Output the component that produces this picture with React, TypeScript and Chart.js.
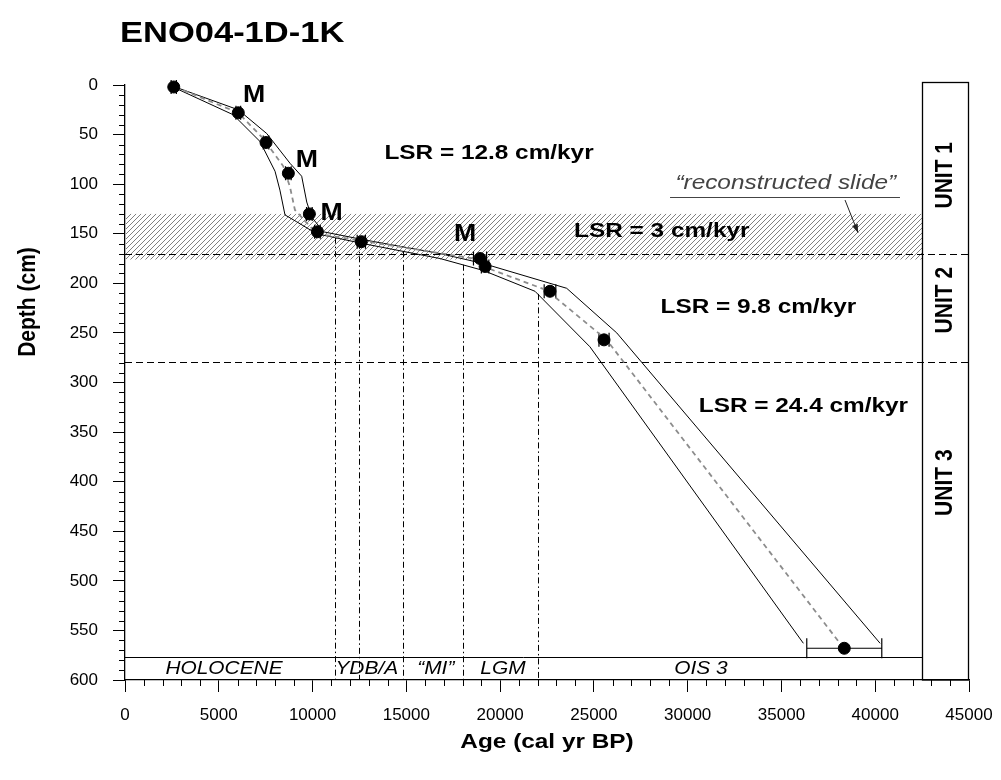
import React, { useEffect, useRef } from 'react';
import { Chart, registerables } from 'chart.js';

Chart.register(...registerables);

const FONT = '"Liberation Sans", Arial, Helvetica, sans-serif';
const K = 1.16; // horizontal stretch of the reference lettering

// ---- data ----
const sampleAge = [2600, 6040, 7520, 8710, 9830, 10260, 12600, 18930, 19200, 22660, 25540, 38350];
const sampleDepth = [2, 28, 58, 89, 130, 148, 158, 175, 183, 208, 257, 568];
const sampleAgeErr = [140, 125, 150, 150, 150, 150, 220, 350, 200, 310, 270, 2000];

const oldBoundAge = [2670, 6040, 7560, 8800, 9420, 9690, 9950, 10570, 12710, 16800, 19100, 23550, 26220, 40260];
const oldBoundDepth = [2, 25, 49, 79, 92, 118, 133, 148, 156, 170, 180, 205, 250, 563];
const youngBoundAge = [2670, 5770, 7200, 8000, 8260, 8530, 9160, 10220, 12710, 16800, 19100, 21860, 24790, 36170];
const youngBoundDepth = [3, 30, 57, 87, 106, 131, 138, 150, 160, 175, 187, 208, 264, 563];
const meanAge = [2670, 6040, 7370, 8440, 8800, 9060, 9690, 10220, 12580, 18930, 19100, 22490, 25680, 38120];
const meanDepth = [2, 28, 54, 82, 103, 126, 139, 150, 157, 176, 183, 207, 257, 563];

const periodBoundaries = [11200, 12500, 14800, 18000, 22000];
const periodLabels = ['HOLOCENE', 'YDB/A', '\u201CMI\u201D', 'LGM', 'OIS 3'];
const periodLabelAge = [5280, 12890, 16570, 20150, 30710];
const periodRowTop = 577;

const slideTop = 130;
const slideBottom = 176;
const unitBoundaries = [170, 279];
const unitLabels = ['UNIT 1', 'UNIT 2', 'UNIT 3'];
const unitLabelDepth = [91, 217, 401];
const unitColumnAge = 42500;
const unitLabelAge = 43720;

const lsrLabels = ['LSR = 12.8 cm/kyr', 'LSR = 3 cm/kyr', 'LSR = 9.8 cm/kyr', 'LSR = 24.4 cm/kyr'];
const lsrAge = [19410, 28620, 33770, 36170];
const lsrDepth = [69, 147, 224, 324];

const mAge = [6880, 9690, 11020, 18130];
const mDepth = [11, 76, 130, 151];

const xTicks = [0, 5000, 10000, 15000, 20000, 25000, 30000, 35000, 40000, 45000];
const yTicks = [0, 50, 100, 150, 200, 250, 300, 350, 400, 450, 500, 550, 600];

function pts(xs: number[], ys: number[]) {
  return xs.map((v, i) => ({ x: v, y: ys[i] }));
}

function interp(xs: number[], ys: number[], v: number) {
  for (let i = 0; i < xs.length - 1; i++) {
    if (v >= xs[i] && v <= xs[i + 1]) {
      const t = (v - xs[i]) / (xs[i + 1] - xs[i]);
      return ys[i] + t * (ys[i + 1] - ys[i]);
    }
  }
  return ys[ys.length - 1];
}

function txt(ctx: CanvasRenderingContext2D, s: string, x: number, y: number, font: string,
  align: CanvasTextAlign = 'center', color = '#000', rot = 0) {
  ctx.save();
  ctx.font = font;
  ctx.fillStyle = color;
  ctx.textAlign = align;
  ctx.textBaseline = 'middle';
  ctx.translate(x, y);
  if (rot) {
    ctx.rotate(rot);
    ctx.scale(1, K);
  } else {
    ctx.scale(K, 1);
  }
  ctx.fillText(s, 0, 0);
  ctx.restore();
}

function makeHatch(ctx: CanvasRenderingContext2D) {
  const c = document.createElement('canvas');
  c.width = 5;
  c.height = 5;
  const g = c.getContext('2d')!;
  g.strokeStyle = '#808080';
  g.lineWidth = 1;
  g.beginPath();
  g.moveTo(0, 5); g.lineTo(5, 0);
  g.moveTo(-1, 1); g.lineTo(1, -1);
  g.moveTo(4, 6); g.lineTo(6, 4);
  g.stroke();
  return ctx.createPattern(c, 'repeat');
}

export default function App() {
  const ref = useRef<HTMLCanvasElement>(null);

  useEffect(() => {
    document.body.style.margin = '0';
    const canvas = ref.current!;
    const ctx0 = canvas.getContext('2d')!;
    const hatch = makeHatch(ctx0);

    const annot = {
      id: 'annot',
      beforeDatasetsDraw(chart: any) {
        const { ctx, chartArea, scales } = chart;
        const x = scales.x, y = scales.y;
        const colRight = x.getPixelForValue(unitColumnAge);
        ctx.save();
        // hatched "reconstructed slide"
        ctx.fillStyle = hatch as any;
        const ht = y.getPixelForValue(slideTop), hb = y.getPixelForValue(slideBottom);
        ctx.fillRect(chartArea.left + 1, ht, colRight - chartArea.left - 1, hb - ht);

        // period boundaries (dash-dot)
        ctx.strokeStyle = '#000';
        ctx.lineWidth = 1;
        ctx.setLineDash([6, 3, 1.5, 3]);
        periodBoundaries.forEach((a) => {
          const d = interp(youngBoundAge, youngBoundDepth, a);
          const px = Math.round(x.getPixelForValue(a)) + 0.5;
          ctx.beginPath();
          ctx.moveTo(px, y.getPixelForValue(d));
          ctx.lineTo(px, y.getPixelForValue(600));
          ctx.stroke();
        });

        // unit boundaries (dashed)
        ctx.setLineDash([7, 4]);
        unitBoundaries.forEach((d) => {
          const py = Math.round(y.getPixelForValue(d)) + 0.5;
          ctx.beginPath();
          ctx.moveTo(chartArea.left, py);
          ctx.lineTo(x.getPixelForValue(45000), py);
          ctx.stroke();
        });
        ctx.setLineDash([]);

        // period row top line
        const pr = Math.round(y.getPixelForValue(periodRowTop)) + 0.5;
        ctx.beginPath();
        ctx.moveTo(chartArea.left, pr);
        ctx.lineTo(colRight, pr);
        ctx.stroke();

        // unit column box
        const bx = Math.round(colRight) + 0.5;
        const bxr = Math.round(x.getPixelForValue(45000)) - 0.5;
        const bt = Math.round(y.getPixelForValue(-3)) + 0.5;
        const bb = y.getPixelForValue(600);
        ctx.lineWidth = 1.3;
        ctx.strokeRect(bx, bt, bxr - bx, bb - bt);

        // error bars
        ctx.lineWidth = 1.2;
        sampleAge.forEach((a, i) => {
          const e = sampleAgeErr[i];
          const cap = e >= 1000 ? 10 : 7;
          const py = y.getPixelForValue(sampleDepth[i]);
          const x1 = x.getPixelForValue(a - e), x2 = x.getPixelForValue(a + e);
          ctx.beginPath();
          ctx.moveTo(x1, py); ctx.lineTo(x2, py);
          ctx.moveTo(x1, py - cap); ctx.lineTo(x1, py + cap);
          ctx.moveTo(x2, py - cap); ctx.lineTo(x2, py + cap);
          ctx.stroke();
        });
        ctx.restore();
      },
      afterDraw(chart: any) {
        const { ctx, chartArea, scales } = chart;
        const x = scales.x, y = scales.y;
        ctx.save();
        // minor ticks
        ctx.strokeStyle = '#000';
        ctx.lineWidth = 1;
        ctx.beginPath();
        for (let v = 1000; v < 45000; v += 1000) {
          if (v % 5000 === 0) continue;
          const px = Math.round(x.getPixelForValue(v)) + 0.5;
          ctx.moveTo(px, chartArea.bottom);
          ctx.lineTo(px, chartArea.bottom + 6);
        }
        for (let v = 10; v < 600; v += 10) {
          if (v % 50 === 0) continue;
          const py = Math.round(y.getPixelForValue(v)) + 0.5;
          ctx.moveTo(chartArea.left - 6, py);
          ctx.lineTo(chartArea.left, py);
        }
        ctx.stroke();

        // titles
        ctx.save();
        ctx.font = `bold 30px ${FONT}`;
        ctx.textAlign = 'left';
        ctx.textBaseline = 'alphabetic';
        ctx.translate(120, 42);
        ctx.scale(K - 0.01, 1);
        ctx.fillStyle = '#000';
        ctx.fillText('ENO04-1D-1K', 0, 0);
        ctx.restore();
        txt(ctx, 'Age (cal yr BP)', (chartArea.left + chartArea.right) / 2, 742, `bold 21px ${FONT}`);
        txt(ctx, 'Depth (cm)', 28, 302, `bold 21px ${FONT}`, 'center', '#000', -Math.PI / 2);

        // LSR labels
        lsrLabels.forEach((s, i) => {
          txt(ctx, s, x.getPixelForValue(lsrAge[i]), y.getPixelForValue(lsrDepth[i]), `bold 21px ${FONT}`);
        });
        // M labels
        mAge.forEach((a, i) => {
          txt(ctx, 'M', x.getPixelForValue(a), y.getPixelForValue(mDepth[i]), `bold 23px ${FONT}`);
        });
        // period labels
        periodLabels.forEach((s, i) => {
          txt(ctx, s, x.getPixelForValue(periodLabelAge[i]), y.getPixelForValue(588.5), `italic 18px ${FONT}`);
        });
        // unit labels
        unitLabels.forEach((s, i) => {
          txt(ctx, s, x.getPixelForValue(unitLabelAge), y.getPixelForValue(unitLabelDepth[i]), `bold 21px ${FONT}`, 'center', '#000', -Math.PI / 2);
        });

        // reconstructed slide note
        txt(ctx, '\u201Creconstructed slide\u201D', x.getPixelForValue(35230), y.getPixelForValue(99), `italic 21px ${FONT}`, 'center', '#444');
        ctx.strokeStyle = '#444';
        ctx.lineWidth = 1;
        const uy = Math.round(y.getPixelForValue(112.6)) + 0.5;
        ctx.beginPath();
        ctx.moveTo(x.getPixelForValue(29060), uy);
        ctx.lineTo(x.getPixelForValue(41320), uy);
        ctx.stroke();
        const ax1 = x.getPixelForValue(38390), ay1 = y.getPixelForValue(116);
        const ax2 = x.getPixelForValue(39084), ay2 = y.getPixelForValue(149);
        ctx.strokeStyle = '#222';
        ctx.beginPath();
        ctx.moveTo(ax1, ay1);
        ctx.lineTo(ax2, ay2);
        ctx.stroke();
        const ang = Math.atan2(ay2 - ay1, ax2 - ax1);
        ctx.fillStyle = '#222';
        ctx.beginPath();
        ctx.moveTo(ax2, ay2);
        ctx.lineTo(ax2 - 9 * Math.cos(ang - 0.35), ay2 - 9 * Math.sin(ang - 0.35));
        ctx.lineTo(ax2 - 9 * Math.cos(ang + 0.35), ay2 - 9 * Math.sin(ang + 0.35));
        ctx.closePath();
        ctx.fill();
        ctx.restore();
      },
    };

    const chart = new Chart(canvas, {
      type: 'scatter',
      data: {
        datasets: [
          {
            label: 'Dated samples',
            data: pts(sampleAge, sampleDepth),
            backgroundColor: '#000',
            borderColor: '#000',
            pointRadius: 6,
            pointStyle: 'circle',
            showLine: false,
            clip: false,
            order: 0,
          },
          {
            label: 'Mean',
            data: pts(meanAge, meanDepth),
            showLine: true,
            borderColor: '#8c8c8c',
            borderWidth: 1.8,
            borderDash: [5, 4],
            pointRadius: 0,
            clip: false,
            order: 1,
          },
          {
            label: 'Older bound',
            data: pts(oldBoundAge, oldBoundDepth),
            showLine: true,
            borderColor: '#000',
            borderWidth: 1,
            pointRadius: 0,
            clip: false,
            order: 2,
          },
          {
            label: 'Younger bound',
            data: pts(youngBoundAge, youngBoundDepth),
            showLine: true,
            borderColor: '#000',
            borderWidth: 1,
            pointRadius: 0,
            clip: false,
            order: 3,
          },
        ],
      },
      options: {
        responsive: false,
        animation: false,
        devicePixelRatio: 1,
        layout: { padding: { top: 85, right: 32, bottom: 0, left: 0 } },
        plugins: { legend: { display: false }, tooltip: { enabled: false }, title: { display: false } },
        scales: {
          x: {
            type: 'linear',
            min: 0,
            max: 45000,
            afterFit: (s: any) => { s.height = 100; s.paddingLeft = 0; s.paddingRight = 0; },
            afterBuildTicks: (s: any) => { s.ticks = xTicks.map((v) => ({ value: v })); },
            grid: { drawOnChartArea: false, drawTicks: true, tickLength: 12, color: '#000', tickWidth: 1 },
            border: { display: true, color: '#000', width: 1.3 },
            ticks: {
              autoSkip: false,
              maxRotation: 0,
              padding: 13,
              color: '#000',
              font: { family: FONT, size: 17 },
              callback: (v: any) => String(v),
            },
            title: { display: false },
          },
          y: {
            type: 'linear',
            reverse: true,
            min: 0,
            max: 600,
            afterFit: (s: any) => { s.width = 125; s.paddingTop = 0; s.paddingBottom = 0; },
            afterBuildTicks: (s: any) => { s.ticks = yTicks.map((v) => ({ value: v })); },
            grid: { drawOnChartArea: false, drawTicks: true, tickLength: 12, color: '#000', tickWidth: 1 },
            border: { display: true, color: '#000', width: 1.3 },
            ticks: {
              autoSkip: false,
              padding: 15,
              color: '#000',
              font: { family: FONT, size: 17 },
              callback: (v: any) => String(v),
            },
            title: { display: false },
          },
        },
      },
      plugins: [annot],
    } as any);

    return () => chart.destroy();
  }, []);

  return (
    <div style={{ width: 1001, height: 780 }}>
      <canvas ref={ref} width={1001} height={780} style={{ display: 'block', width: 1001, height: 780 }} />
    </div>
  );
}
